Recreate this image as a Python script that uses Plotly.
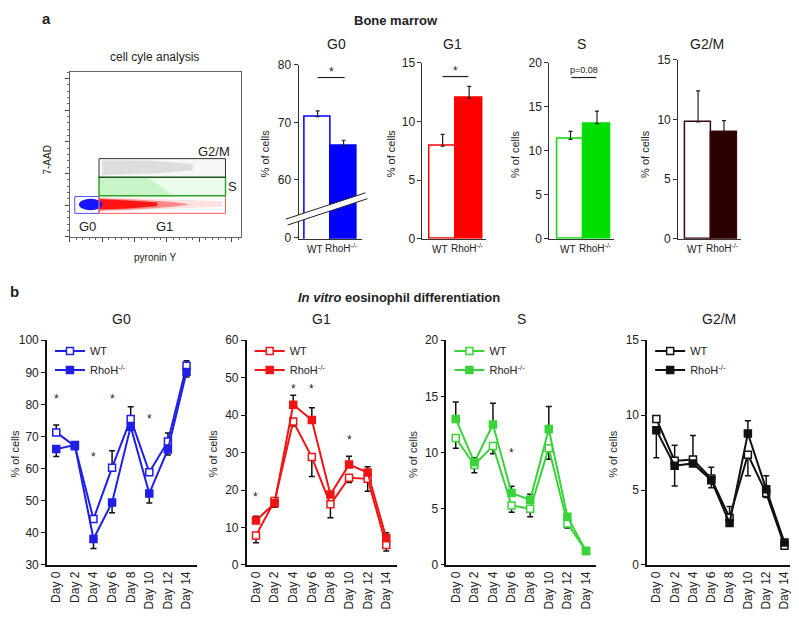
import plotly.graph_objects as go

W, H = 799, 621
# the page body keeps its default 8px margin on every side, so the figure is drawn
# 8px in from the corner and sized to fit the window; positions are in window pixels
OX, OY = 8, 8
FW, FH = W - 2 * OX, H - 2 * OY
FONT = 'Arial, "Liberation Sans", sans-serif'

# ---------- panel a: bone marrow (mean, upper error) ----------
bar_groups = ["WT", "RhoH"]
bm_g0 = [71.0, 65.9]
bm_g0_err = [1.0, 1.0]
bm_g1 = [7.9, 12.0]
bm_g1_err = [1.0, 1.0]
bm_s = [11.3, 13.1]
bm_s_err = [0.9, 1.4]
bm_g2m = [9.8, 9.0]
bm_g2m_err = [2.6, 0.9]

# ---------- panel b: in vitro differentiation ----------
day_num = [0, 2, 4, 6, 8, 10, 12, 14]
day_labels = ["Day 0", "Day 2", "Day 4", "Day 6", "Day 8", "Day 10", "Day 12", "Day 14"]

g0_wt = [71.3, 67.0, 44.3, 60.3, 75.5, 58.9, 68.5, 92.1]
g0_wt_up = [2.3, 0, 0, 5.3, 3.8, 0, 2.6, 1.5]
g0_wt_dn = [0, 0, 0, 0, 0, 0, 0, 0]
g0_ko = [66.1, 67.4, 38.1, 49.5, 73.1, 52.3, 66.0, 90.1]
g0_ko_up = [0, 0, 0, 0, 0, 0, 0, 0]
g0_ko_dn = [2.3, 0, 3.0, 3.2, 0, 3.0, 1.7, 1.5]
g0_star_days = [0, 4, 6, 10]
g0_star_y = [81.8, 63.5, 81.8, 75.6]

g1_wt = [7.9, 17.1, 38.3, 28.8, 16.2, 23.3, 23.0, 5.3]
g1_wt_up = [0, 0, 0, 0, 0, 0, 0, 0]
g1_wt_dn = [2.0, 0, 1.2, 5.2, 3.6, 1.3, 3.3, 1.6]
g1_ko = [11.9, 16.5, 42.8, 38.7, 18.8, 26.8, 24.7, 7.2]
g1_ko_up = [1.1, 0, 2.5, 3.3, 0.5, 2.2, 1.5, 1.4]
g1_ko_dn = [0, 1.1, 0, 0, 0, 0, 0, 0]
g1_star_days = [0, 4, 6, 10]
g1_star_y = [18.1, 46.9, 46.9, 33.5]

s_wt = [11.3, 8.9, 10.6, 5.3, 5.0, 10.4, 3.7, 1.25]
s_wt_up = [0, 0, 0, 0, 0, 0, 0, 0]
s_wt_dn = [0.9, 0.7, 0.7, 0.6, 0.7, 1.0, 0.4, 0]
s_ko = [13.0, 9.15, 12.5, 6.4, 5.8, 12.1, 4.3, 1.25]
s_ko_up = [1.5, 0.4, 1.9, 0.6, 0.5, 2.0, 0, 0]
s_ko_dn = [0, 0, 0, 0, 0, 0, 0, 0]
s_star_days = [6]
s_star_y = [10.0]

g2m_wt = [9.75, 6.95, 7.04, 5.77, 3.16, 7.36, 4.8, 1.29]
g2m_wt_up = [0, 1.05, 1.6, 0.75, 0.75, 0, 0, 0]
g2m_wt_dn = [0, 0, 0, 0, 0, 1.4, 0.3, 0]
g2m_ko = [9.0, 6.63, 6.78, 5.66, 2.8, 8.78, 5.06, 1.5]
g2m_ko_up = [0, 0, 0, 0, 0, 0.85, 0.9, 0]
g2m_ko_dn = [1.85, 1.35, 0, 0.5, 0, 0, 0, 0]


def X(p):
    return (p - OX) / FW


def Y(p):
    return 1 - (p - OY) / FH


def xd(a, b):
    return [X(a), X(b)]


def yd(top, bottom):
    return [Y(bottom), Y(top)]


fig = go.Figure()
annotations = []
shapes = []


def ann(x, y, text, size=12, **kw):
    d = dict(x=X(x), y=Y(y), xref='paper', yref='paper', text=text, showarrow=False,
             xanchor='center', yanchor='middle',
             font=dict(size=size, color=kw.pop('color', '#222'), family=FONT))
    d.update(kw)
    annotations.append(d)


def pline(x0, y0, x1, y1, color='#222', width=1):
    shapes.append(dict(type='line', xref='paper', yref='paper', x0=X(x0), y0=Y(y0),
                       x1=X(x1), y1=Y(y1), line=dict(color=color, width=width)))


# ---------------- flow cytometry plot ----------------
fig.add_trace(go.Scatter(x=[0], y=[0], mode='markers', marker=dict(opacity=0), showlegend=False,
                         hoverinfo='skip', xaxis='x', yaxis='y'))
flow_ax = dict(showticklabels=False, ticks='outside', ticklen=4, tickcolor='#444', dtick=1, tick0=0,
               minor=dict(ticks='outside', ticklen=2, dtick=0.2, tickcolor='#666'),
               showline=True, linecolor='#666', linewidth=1, mirror=True, showgrid=False, zeroline=False)
fig.update_layout(
    xaxis=dict(domain=xd(70, 241), range=[0, 5.28], anchor='y', **flow_ax),
    yaxis=dict(domain=yd(66, 235), range=[0, 5.22], anchor='x', **flow_ax),
)
# dot clouds sketched as translucent regions
shapes += [
    dict(type='rect', xref='x', yref='y', x0=0.9, x1=4.8, y0=1.88, y1=2.47, fillcolor='rgba(0,0,0,0.03)', line_width=0),
    dict(type='path', xref='x', yref='y', path='M 1.0,1.95 L 2.6,2.0 L 3.8,2.1 L 3.8,2.3 L 2.6,2.4 L 1.0,2.42 Z',
         fillcolor='rgba(0,0,0,0.1)', line_width=0),
    dict(type='rect', xref='x', yref='y', x0=0.9, x1=4.8, y0=1.3, y1=1.88, fillcolor='rgba(60,220,60,0.1)', line_width=0),
    dict(type='path', xref='x', yref='y', path='M 0.9,1.3 L 3.2,1.3 L 2.4,1.88 L 0.9,1.88 Z',
         fillcolor='rgba(60,220,60,0.2)', line_width=0),
    dict(type='path', xref='x', yref='y', path='M 0.9,0.8 L 4.7,0.95 L 4.7,1.12 L 0.9,1.26 Z',
         fillcolor='rgba(255,40,40,0.14)', line_width=0),
    dict(type='path', xref='x', yref='y', path='M 0.9,0.82 L 2.0,0.86 L 3.2,0.95 L 3.7,1.02 L 3.2,1.1 L 2.0,1.18 L 0.9,1.22 Z',
         fillcolor='rgba(255,30,30,0.45)', line_width=0),
    dict(type='path', xref='x', yref='y', path='M 0.9,0.86 L 1.8,0.89 L 2.7,0.97 L 2.7,1.08 L 1.8,1.15 L 0.9,1.19 Z',
         fillcolor='rgba(255,0,0,0.85)', line_width=0),
    dict(type='circle', xref='x', yref='y', x0=0.28, x1=1.0, y0=0.84, y1=1.2, fillcolor='#1414ff', line_width=0),
    # gates
    dict(type='rect', xref='x', yref='y', x0=0.15, x1=0.9, y0=0.74, y1=1.27, line=dict(color='#5050ff', width=1)),
    dict(type='rect', xref='x', yref='y', x0=0.9, x1=4.81, y0=0.74, y1=1.3, line=dict(color='#ff5a5a', width=1)),
    dict(type='rect', xref='x', yref='y', x0=0.9, x1=4.81, y0=1.3, y1=1.88, line=dict(color='#2aa82a', width=1.5)),
    dict(type='rect', xref='x', yref='y', x0=0.9, x1=4.81, y0=1.88, y1=2.47, line=dict(color='#333', width=1)),
]
ann(155, 51, 'cell cyle analysis', 12)
ann(48, 156, '7-AAD', 10, textangle=-90)
ann(155, 256, 'pyronin Y', 10)
ann(88, 225, 'G0', 13)
ann(165, 225, 'G1', 13)
ann(214, 148, 'G2/M', 13)
ann(233, 184, 'S', 13)

# ---------------- bone marrow bars ----------------
fig.update_layout(bargap=0)


def bar_panel(n, vals, errs, edge, fill, xdom, xr, ydom, yr, tickvals, ticktext=None):
    fig.add_trace(go.Bar(
        x=bar_groups, y=vals, width=1,
        marker=dict(color=['white', fill], line=dict(color=edge, width=1.5)),
        error_y=dict(type='data', symmetric=False, array=errs, arrayminus=[0, 0],
                     color='#222', thickness=1.2, width=2),
        xaxis=f'x{n}', yaxis=f'y{n}', showlegend=False))
    fig.update_layout(**{
        f'xaxis{n}': dict(domain=xd(*xdom), range=xr, anchor=f'y{n}', showticklabels=False,
                          ticks='', showline=True, linecolor='#333', linewidth=1,
                          showgrid=False, zeroline=False),
        f'yaxis{n}': dict(domain=yd(*ydom), range=yr, anchor=f'x{n}', tickvals=tickvals,
                          ticktext=ticktext, ticks='outside', ticklen=4, tickcolor='#333',
                          showline=True, linecolor='#333', linewidth=1, showgrid=False,
                          zeroline=False, tickfont=dict(size=12, color='#222', family=FONT)),
    })


bar_panel(2, bm_g0, bm_g0_err, '#0000ff', '#0000ff', (299, 362), [-0.73, 1.69], (59, 237),
          [49.8, 80], [50, 60, 70, 80], ['0', '60', '70', '80'])
bar_panel(3, bm_g1, bm_g1_err, '#ff0000', '#ff0000', (423, 487), [-0.76, 1.65], (57, 237),
          [0, 15], [0, 5, 10, 15])
bar_panel(4, bm_s, bm_s_err, '#00dd00', '#00dd00', (550, 615), [-0.8, 1.65], (57, 237),
          [0, 20], [0, 5, 10, 15, 20])
bar_panel(5, bm_g2m, bm_g2m_err, '#3a0606', '#2a0000', (679, 742), [-0.77, 1.66], (54, 237),
          [0, 15], [0, 5, 10, 15])

# axis break on G0 bars
shapes.append(dict(type='path', xref='paper', yref='paper', layer='above',
                   path='M {},{} L {},{} L {},{} L {},{} Z'.format(
                       X(286), Y(217), X(366), Y(190), X(368), Y(196), X(288), Y(223)),
                   fillcolor='white', line_width=0))
pline(286, 217, 366, 190)
pline(288, 223, 368, 196)

for cx, title in [(337, 'G0'), (453, 'G1'), (582, 'S'), (708, 'G2/M')]:
    ann(cx, 38, title, 14)
for cx in [265, 391, 515, 646]:
    ann(cx, 150, '% of cells', 11, textangle=-90)
for wx, kx in [(315, 342), (441, 468), (569, 596), (696, 723)]:
    ann(wx, 248, 'WT', 10)
    ann(kx, 247, 'RhoH<sup>-/-</sup>', 10)

# significance marks
pline(318, 72, 345, 72, width=1.2)
ann(332, 66, '*', 12)
pline(443, 71, 469, 71, width=1.2)
ann(456, 65, '*', 12)
pline(572, 72, 597, 72, width=1.2)
ann(585, 64, 'p=0.08', 9)

ann(396, 14, '<b>Bone marrow</b>', 13)
ann(47, 12, '<b>a</b>', 15)
ann(8, 291, '<b>b</b>', 15, xanchor='left')
ann(400, 297, '<b><i>In vitro</i> eosinophil differentiation</b>', 13)


# ---------------- in vitro line panels ----------------
def line_panel(n, wt, wt_up, wt_dn, ko, ko_up, ko_dn, color, xdom, xmax, yr, dtick,
               star_days, star_y, title, ylab_x):
    leg = 'legend' if n == 6 else f'legend{n - 5}'
    err = dict(color='#111', thickness=1.5, width=3, type='data', symmetric=False)
    fig.add_trace(go.Scatter(
        x=day_num, y=wt, name='WT', mode='lines+markers', legend=leg,
        line=dict(color=color, width=2),
        marker=dict(symbol='square', size=7, color='white', line=dict(color=color, width=1.5)),
        error_y=dict(array=wt_up, arrayminus=wt_dn, **err),
        xaxis=f'x{n}', yaxis=f'y{n}'))
    fig.add_trace(go.Scatter(
        x=day_num, y=ko, name='RhoH<sup>-/-</sup>', mode='lines+markers', legend=leg,
        line=dict(color=color, width=2),
        marker=dict(symbol='square', size=7, color=color, line=dict(color=color, width=1.5)),
        error_y=dict(array=ko_up, arrayminus=ko_dn, **err),
        xaxis=f'x{n}', yaxis=f'y{n}'))
    fig.update_layout(**{
        f'xaxis{n}': dict(domain=xd(*xdom), range=[-1.0, xmax], anchor=f'y{n}',
                          tickvals=day_num, ticktext=day_labels, ticklabeloverflow='allow',
                          tickangle=-90, ticks='', showline=True, linecolor='#111', linewidth=1.5,
                          showgrid=False, zeroline=False,
                          tickfont=dict(size=12, color='#222', family=FONT)),
        f'yaxis{n}': dict(domain=yd(341, 571), range=yr, dtick=dtick, anchor=f'x{n}',
                          ticks='outside', ticklen=4, tickcolor='#111', showline=True,
                          linecolor='#111', linewidth=1.5, showgrid=False, zeroline=False,
                          tickfont=dict(size=12, color='#222', family=FONT)),
        leg: dict(x=X(xdom[0] + 3), y=Y(337), xanchor='left', yanchor='top',
                  bgcolor='rgba(0,0,0,0)', borderwidth=0, tracegroupgap=0,
                  font=dict(size=11, color='#222', family=FONT)),
    })
    for d, v in zip(star_days, star_y):
        annotations.append(dict(x=d, y=v, xref=f'x{n}', yref=f'y{n}', text='*', showarrow=False,
                                xanchor='center', yanchor='middle', yshift=0,
                                font=dict(size=12, color='#222', family=FONT)))
    ann((xdom[0] + xdom[1]) / 2, 319, title, 14)
    ann(ylab_x, 457, '% of cells', 11, textangle=-90)


line_panel(6, g0_wt, g0_wt_up, g0_wt_dn, g0_ko, g0_ko_up, g0_ko_dn, '#1f1fe6',
           (47, 197), 15.1, [30, 100], 10, g0_star_days, g0_star_y, 'G0', 15)
line_panel(7, g1_wt, g1_wt_up, g1_wt_dn, g1_ko, g1_ko_up, g1_ko_dn, '#f01515',
           (247, 397), 15.1, [0, 60], 10, g1_star_days, g1_star_y, 'G1', 213)
line_panel(8, s_wt, s_wt_up, s_wt_dn, s_ko, s_ko_up, s_ko_dn, '#3ad43a',
           (447, 597), 15.1, [0, 20], 5, s_star_days, s_star_y, 'S', 413)
line_panel(9, g2m_wt, g2m_wt_up, g2m_wt_dn, g2m_ko, g2m_ko_up, g2m_ko_dn, '#111111',
           (648, 791), 14.6, [0, 15], 5, [], [], 'G2/M', 613)

fig.update_layout(
    width=FW, height=FH, autosize=False,
    margin=dict(l=0, r=0, t=0, b=0),
    paper_bgcolor='white', plot_bgcolor='rgba(0,0,0,0)',
    font=dict(family=FONT, size=12, color='#222'),
    annotations=annotations, shapes=shapes,
)

fig.write_html("out.html")
